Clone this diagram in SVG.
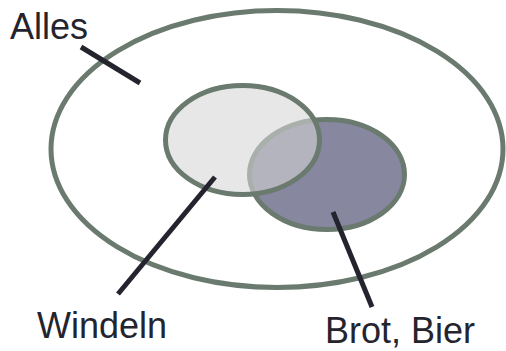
<svg xmlns="http://www.w3.org/2000/svg" width="506" height="351" viewBox="0 0 506 351">
<style>
.set{stroke:#6b7a6e;stroke-width:5}
.lead{stroke:#24242e;stroke-width:5;fill:none}
.lbl{font-family:"Liberation Sans",Arial,sans-serif;font-size:36px;fill:#24242e}
</style>
<rect width="506" height="351" fill="#ffffff"/>
<g id="alles"><ellipse class="set" cx="277" cy="149" rx="226" ry="138.5" fill="#ffffff"/></g>
<g id="brot-bier"><ellipse class="set" cx="327" cy="174.5" rx="77.5" ry="55" fill="#8787a0"/></g>
<g id="windeln"><ellipse cx="242.5" cy="140" rx="77" ry="54.5" fill="#d6d6d6" fill-opacity="0.58" stroke="#6b7a6e" stroke-width="5"/></g>
<g id="connectors">
<line class="lead" x1="81" y1="47" x2="140" y2="83"/>
<line class="lead" x1="215" y1="177" x2="118" y2="294"/>
<line class="lead" x1="333" y1="212" x2="372" y2="307"/>
</g>
<g id="labels">
<text class="lbl" x="10" y="39">Alles</text>
<text class="lbl" x="37" y="338">Windeln</text>
<text class="lbl" x="325" y="343">Brot, Bier</text>
</g>
</svg>
